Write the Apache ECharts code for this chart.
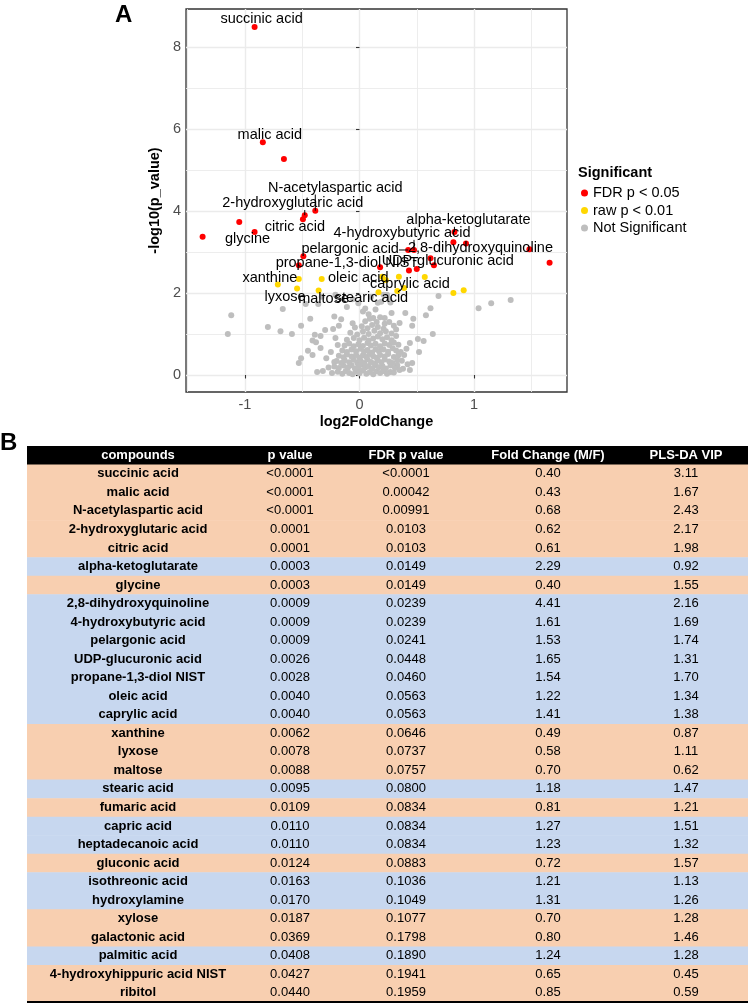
<!DOCTYPE html>
<html><head><meta charset="utf-8">
<script src="https://cdn.jsdelivr.net/npm/echarts@6/dist/echarts.min.js"></script>
<style>html,body{margin:0;padding:0;background:#fff}#c{width:748px;height:1008px}</style>
</head><body><div id="c"></div>
<script>
// ================= DATA: volcano plot =================
// [log2FoldChange, -log10(p_value), label]
const fdrPoints = [
  [-0.916, 8.49, 'succinic acid'],
  [-0.844, 5.68, 'malic acid'],
  [-0.66, 5.27, ''],
  [-0.386, 4.01, 'N-acetylaspartic acid'],
  [-0.478, 3.90, '2-hydroxyglutaric acid'],
  [-0.494, 3.80, 'citric acid'],
  [-1.05, 3.73, ''],
  [-0.916, 3.49, 'glycine'],
  [-1.37, 3.37, ''],
  [-0.49, 2.90, ''],
  [-0.53, 2.68, ''],
  [0.829, 3.49, 'alpha-ketoglutarate'],
  [0.82, 3.24, ''],
  [0.93, 3.21, ''],
  [1.484, 3.07, '2,8-dihydroxyquinoline'],
  [0.476, 3.05, '4-hydroxybutyric acid'],
  [0.425, 3.05, 'pelargonic acid'],
  [0.50, 2.585, 'UDP-glucuronic acid'],
  [0.432, 2.55, 'propane-1,3-diol NIST'],
  [1.66, 2.74, ''],
  [0.62, 2.85, ''],
  [0.65, 2.68, ''],
  [0.18, 2.63, '']
];
const rawPoints = [
  [0.199, 2.40, 'oleic acid'],
  [0.344, 2.40, 'caprylic acid'],
  [-0.713, 2.21, 'xanthine'],
  [-0.545, 2.11, 'lyxose'],
  [-0.357, 2.06, 'maltose'],
  [0.166, 2.02, 'stearic acid'],
  [-0.53, 2.34, ''],
  [-0.33, 2.34, ''],
  [0.23, 2.32, ''],
  [0.39, 2.12, ''],
  [0.33, 2.05, ''],
  [0.57, 2.39, ''],
  [0.82, 2.00, ''],
  [0.91, 2.07, '']
];
const nsPoints = [
  [-0.21,1.96],[0.24,1.96],[0.21,1.96],[-0.33,1.91],[0.19,1.79],[0.27,1.77],[-0.36,1.73],[-0.22,1.43],[0.22,1.39],[-0.43,1.37],[-0.16,1.36],
  [-1.12,1.46],[-1.15,1.00],[-0.67,1.61],[-0.80,1.17],[-0.69,1.07],[-0.59,1.00],[-0.51,1.20],[-0.47,1.73],[-0.18,1.20],[-0.06,1.26],
  [-0.30,1.10],[-0.23,1.12],[-0.39,0.98],[-0.34,0.95],[-0.41,0.84],[-0.38,0.80],[-0.21,0.90],[-0.45,0.59],[-0.41,0.49],[-0.51,0.41],
  [-0.53,0.29],[-0.37,0.07],[-0.32,0.10],[-0.34,0.66],[-0.29,0.41],[-0.25,0.56],[-0.22,0.32],[-0.19,0.73],[-0.27,0.18],[-0.24,0.05],
  [0.69,1.93],[1.04,1.63],[1.15,1.75],[1.32,1.83],[0.62,1.63],[0.58,1.46],[0.64,1.00],[0.56,0.83],[0.51,0.88],[0.52,0.56],[0.44,0.78],
  [0.47,1.37],[0.46,1.20],[0.40,1.51],[0.35,1.27],[0.46,0.29],[0.44,0.12],[0.38,0.15],[0.42,0.26],[0.26,1.85],[0.28,1.51],[0.16,1.76],
  [0.18,1.41],[0.12,1.39],[0.26,1.29],[0.36,0.56],[0.39,0.49],[0.27,0.07],[0.33,0.24],[0.37,0.35],[0.41,0.64],[0.34,0.74],
  [-0.11,1.66],[0.05,1.62],[0.10,1.90],[-0.01,1.75],[0.03,1.55],[0.08,1.48],[0.14,1.60],[-0.06,1.85],
  [-0.19,0.08],[-0.15,0.03],[-0.12,0.10],[-0.09,0.05],[-0.06,0.02],[-0.03,0.08],[0.00,0.04],[0.03,0.11],[0.06,0.03],[0.09,0.07],
  [0.12,0.02],[0.15,0.09],[0.18,0.05],[0.21,0.10],[0.24,0.03],[0.30,0.06],[-0.01,0.13],
  [-0.22,0.21],[-0.18,0.17],[-0.14,0.23],[-0.10,0.18],[-0.07,0.24],[-0.04,0.16],[-0.01,0.21],[0.02,0.25],[0.05,0.18],[0.08,0.22],
  [0.11,0.15],[0.14,0.24],[0.17,0.19],[0.20,0.22],[0.23,0.16],[0.27,0.23],[0.31,0.17],[0.35,0.12],
  [-0.20,0.34],[-0.16,0.29],[-0.13,0.36],[-0.09,0.31],[-0.05,0.37],[-0.02,0.30],[0.01,0.35],[0.04,0.29],[0.07,0.38],[0.10,0.32],
  [0.13,0.28],[0.16,0.36],[0.19,0.31],[0.22,0.38],[0.26,0.33],[0.29,0.29],[0.33,0.36],
  [-0.18,0.47],[-0.14,0.43],[-0.11,0.50],[-0.07,0.45],[-0.03,0.49],[0.00,0.42],[0.03,0.48],[0.06,0.44],[0.09,0.51],[0.12,0.46],
  [0.15,0.42],[0.18,0.49],[0.22,0.45],[0.25,0.51],[0.30,0.44],[0.34,0.48],
  [-0.15,0.60],[-0.11,0.56],[-0.07,0.62],[-0.03,0.58],[0.01,0.64],[0.04,0.57],[0.07,0.61],[0.11,0.55],[0.14,0.63],[0.17,0.58],
  [0.21,0.62],[0.25,0.57],[0.29,0.65],[0.32,0.60],
  [-0.13,0.72],[-0.09,0.77],[-0.05,0.70],[-0.01,0.75],[0.03,0.71],[0.07,0.78],[0.10,0.72],[0.14,0.76],[0.18,0.70],[0.22,0.77],
  [0.26,0.73],[0.30,0.79],
  [-0.11,0.86],[-0.05,0.90],[0.00,0.85],[0.04,0.91],[0.08,0.84],[0.12,0.89],[0.16,0.94],[0.20,0.87],[0.24,0.92],[0.28,0.85],[0.32,0.95],
  [-0.08,1.03],[-0.02,0.99],[0.03,1.06],[0.08,1.00],[0.13,1.08],[0.18,1.02],[0.23,1.07],[0.28,1.01],[0.32,1.11],
  [-0.04,1.16],[0.02,1.19],[0.07,1.14],[0.11,1.22],[0.16,1.17],[0.21,1.13],[0.30,1.20],
  [0.05,1.31],[0.15,1.29],[0.09,1.37],[0.22,1.25]
];
const xMajorTicks = [-1, 0, 1];
const xMinorTicks = [-1.5, -0.5, 0.5, 1.5];
const yMajorTicks = [0, 2, 4, 6, 8];
const yMinorTicks = [1, 3, 5, 7];
const legendNames = ['FDR p < 0.05', 'raw p < 0.01', 'Not Significant'];

// ================= DATA: table =================
const tableHeader = ['compounds', 'p value', 'FDR p value', 'Fold Change (M/F)', 'PLS-DA VIP'];
const compounds = ['succinic acid','malic acid','N-acetylaspartic acid','2-hydroxyglutaric acid','citric acid','alpha-ketoglutarate','glycine','2,8-dihydroxyquinoline','4-hydroxybutyric acid','pelargonic acid','UDP-glucuronic acid','propane-1,3-diol NIST','oleic acid','caprylic acid','xanthine','lyxose','maltose','stearic acid','fumaric acid','capric acid','heptadecanoic acid','gluconic acid','isothreonic acid','hydroxylamine','xylose','galactonic acid','palmitic acid','4-hydroxyhippuric acid NIST','ribitol'];
const pValues = ['<0.0001','<0.0001','<0.0001','0.0001','0.0001','0.0003','0.0003','0.0009','0.0009','0.0009','0.0026','0.0028','0.0040','0.0040','0.0062','0.0078','0.0088','0.0095','0.0109','0.0110','0.0110','0.0124','0.0163','0.0170','0.0187','0.0369','0.0408','0.0427','0.0440'];
const fdrValues = ['<0.0001','0.00042','0.00991','0.0103','0.0103','0.0149','0.0149','0.0239','0.0239','0.0241','0.0448','0.0460','0.0563','0.0563','0.0646','0.0737','0.0757','0.0800','0.0834','0.0834','0.0834','0.0883','0.1036','0.1049','0.1077','0.1798','0.1890','0.1941','0.1959'];
const foldChanges = ['0.40','0.43','0.68','0.62','0.61','2.29','0.40','4.41','1.61','1.53','1.65','1.54','1.22','1.41','0.49','0.58','0.70','1.18','0.81','1.27','1.23','0.72','1.21','1.31','0.70','0.80','1.24','0.65','0.85'];
const vipValues = ['3.11','1.67','2.43','2.17','1.98','0.92','1.55','2.16','1.69','1.74','1.31','1.70','1.34','1.38','0.87','1.11','0.62','1.47','1.21','1.51','1.32','1.57','1.13','1.26','1.28','1.46','1.28','0.45','0.59'];

// ================= LAYOUT / STYLE =================
const PLOT_FONT = "'Liberation Sans', Arial, sans-serif";
const TABLE_FONT = "'Liberation Sans Narrow', 'Arial Narrow', 'Liberation Sans', sans-serif";
const FS = 14.5;
// label offsets in pixels relative to the point, and whether a leader segment is drawn
const labelOffsets = {
  'succinic acid': [7, -8, false],
  'malic acid': [7, -7, false],
  'N-acetylaspartic acid': [20, -23, true],
  '2-hydroxyglutaric acid': [-12, -12, true],
  'citric acid': [-8, 8, true],
  'glycine': [-7, 7, false],
  'alpha-ketoglutarate': [14, -12, true],
  '2,8-dihydroxyquinoline': [-49, -1, false],
  '4-hydroxybutyric acid': [-12, -17, true],
  'pelargonic acid': [-58, -1, true],
  'UDP-glucuronic acid': [31, -8, true],
  'propane-1,3-diol NIST': [-62, -7, true],
  'oleic acid': [-24, 1, false],
  'caprylic acid': [11, 7, true],
  'xanthine': [-8, -6, true],
  'lyxose': [-12, 8, true],
  'maltose': [5, 8, true],
  'stearic acid': [-7, 6, true]
};
const TABLE_W = 721;
const colCenters = [111, 263, 379, 521, 659];
const ORANGE = '#f8cfb0', BLUE = '#c7d7ef';

const labeled = fdrPoints.concat(rawPoints).filter(p => p[2]);

const measureCtx = document.createElement('canvas').getContext('2d');
function textWidth(t, font) { measureCtx.font = font; return measureCtx.measureText(t).width; }

const chart = echarts.init(document.getElementById('c'), null, {renderer: 'canvas'});

const tableRows = [0].concat(compounds.map((c, i) => i + 1));
const labelFont = FS + 'px ' + PLOT_FONT;

const option = {
  backgroundColor: '#fff',
  animation: false,
  title: [
    {text: 'A', left: 115, top: 3, padding: 0, textStyle: {fontSize: 24, fontWeight: 'bold', color: '#000', fontFamily: PLOT_FONT}},
    {text: 'B', left: 0, top: 431, padding: 0, textStyle: {fontSize: 24, fontWeight: 'bold', color: '#000', fontFamily: PLOT_FONT}},
    {text: 'Significant', left: 578, top: 165, padding: 0, textStyle: {fontSize: FS, fontWeight: 'bold', color: '#000', fontFamily: PLOT_FONT}}
  ],
  legend: {
    data: legendNames, orient: 'vertical', left: 581, top: 185.5, padding: 0,
    itemWidth: 7, itemHeight: 7, itemGap: 2.5, icon: 'circle',
    textStyle: {fontSize: FS, lineHeight: 15, color: '#000', fontFamily: PLOT_FONT},
    selectedMode: false
  },
  grid: [
    {left: 186, top: 9, width: 381, height: 383, show: true, borderColor: '#333', borderWidth: 1.3, backgroundColor: 'transparent'},
    {left: 27, top: 446, width: TABLE_W, height: 556, show: false}
  ],
  xAxis: [
    {gridIndex: 0, type: 'value', min: -1.515, max: 1.812, position: 'bottom',
     axisLine: {show: false},
     axisTick: {show: true, length: 3.5, customValues: xMajorTicks, lineStyle: {color: '#333', width: 1.1}},
     axisLabel: {customValues: xMajorTicks, margin: 5, fontSize: FS, color: '#4d4d4d', fontFamily: PLOT_FONT},
     splitLine: {show: true, lineStyle: {color: '#ebebeb', width: 1.4}},
     name: 'log2FoldChange', nameLocation: 'middle', nameGap: 22,
     nameTextStyle: {fontSize: FS, fontWeight: 'bold', color: '#000', fontFamily: PLOT_FONT}},
    {gridIndex: 0, type: 'value', min: -1.515, max: 1.812, position: 'top',
     axisLine: {show: false}, axisLabel: {show: false},
     axisTick: {show: false, customValues: xMinorTicks},
     splitLine: {show: true, lineStyle: {color: '#ebebeb', width: 0.9}}},
    {gridIndex: 1, type: 'value', min: 0, max: TABLE_W, show: false}
  ],
  yAxis: [
    {gridIndex: 0, type: 'value', min: -0.415, max: 8.93, position: 'left',
     axisLine: {show: false},
     axisTick: {show: true, length: 3.5, customValues: yMajorTicks, lineStyle: {color: '#333', width: 1.1}},
     axisLabel: {customValues: yMajorTicks, margin: 5, fontSize: FS, color: '#4d4d4d', fontFamily: PLOT_FONT},
     splitLine: {show: true, lineStyle: {color: '#ebebeb', width: 1.4}},
     name: '-log10(p_value)', nameLocation: 'middle', nameGap: 17,
     nameTextStyle: {fontSize: FS, fontWeight: 'bold', color: '#000', fontFamily: PLOT_FONT}},
    {gridIndex: 0, type: 'value', min: -0.415, max: 8.93, position: 'right',
     axisLine: {show: false}, axisLabel: {show: false},
     axisTick: {show: false, customValues: yMinorTicks},
     splitLine: {show: true, lineStyle: {color: '#ebebeb', width: 0.9}}},
    {gridIndex: 1, type: 'category', data: tableRows, inverse: true, show: false}
  ],
  series: [
    {name: 'Not Significant', type: 'scatter', xAxisIndex: 0, yAxisIndex: 0, symbolSize: 6,
     itemStyle: {color: '#bebebe', opacity: 1}, data: nsPoints, z: 3, silent: true},
    {name: 'raw p < 0.01', type: 'scatter', xAxisIndex: 0, yAxisIndex: 0, symbolSize: 6,
     itemStyle: {color: '#ffd700', opacity: 1}, data: rawPoints.map(p => [p[0], p[1]]), z: 4, silent: true},
    {name: 'FDR p < 0.05', type: 'scatter', xAxisIndex: 0, yAxisIndex: 0, symbolSize: 6,
     itemStyle: {color: '#ff0000', opacity: 1}, data: fdrPoints.map(p => [p[0], p[1]]), z: 5, silent: true},
    {name: 'labels', type: 'custom', xAxisIndex: 0, yAxisIndex: 0, z: 10, silent: true,
     data: labeled.map((p, i) => [p[0], p[1], i]),
     renderItem: function (params, api) {
       const p = api.coord([api.value(0), api.value(1)]);
       const name = labeled[api.value(2)][2];
       const o = labelOffsets[name];
       const cx = p[0] + o[0], cy = p[1] + o[1];
       const w = textWidth(name, labelFont), h = FS * 0.95;
       const children = [];
       if (o[2]) {
         const nx = Math.min(Math.max(p[0], cx - w / 2), cx + w / 2);
         const ny = Math.min(Math.max(p[1], cy - h / 2), cy + h / 2);
         const d = Math.hypot(nx - p[0], ny - p[1]);
         if (d > 3) {
           children.push({type: 'line', shape: {x1: p[0], y1: p[1], x2: nx, y2: ny}, style: {stroke: '#000', lineWidth: 1}});
         }
       }
       children.push({type: 'text', x: cx, y: cy, style: {text: name, fill: '#000', align: 'center', verticalAlign: 'middle',
         textAlign: 'center', textVerticalAlign: 'middle', font: labelFont}});
       return {type: 'group', children: children};
     }},
    {name: 'table', type: 'custom', xAxisIndex: 2, yAxisIndex: 2, silent: true,
     data: tableRows.map(i => [i]),
     renderItem: function (params, api) {
       const i = api.value(0);
       const c0 = api.coord([0, i]);
       const c1 = api.coord([TABLE_W, i]);
       const h = api.size([0, 1])[1];
       const isHeader = i === 0;
       const k = i - 1;
       const cells = isHeader ? tableHeader : [compounds[k], pValues[k], fdrValues[k], foldChanges[k], vipValues[k]];
       const fill = isHeader ? '#000' : (parseFloat(foldChanges[k]) < 1 ? ORANGE : BLUE);
       const children = [{type: 'rect', shape: {x: c0[0], y: c0[1] - h / 2, width: c1[0] - c0[0], height: h + 0.6}, style: {fill: fill}}];
       cells.forEach(function (t, c) {
         const bold = isHeader || c === 0;
         children.push({type: 'text', x: api.coord([colCenters[c], i])[0], y: c0[1],
           style: {text: t, fill: isHeader ? '#fff' : '#000', align: 'center', verticalAlign: 'middle',
             textAlign: 'center', textVerticalAlign: 'middle',
             font: (bold ? 'bold ' : '') + '13px ' + TABLE_FONT}});
       });
       if (i === compounds.length) {
         children.push({type: 'line', shape: {x1: c0[0], y1: c0[1] + h / 2, x2: c1[0], y2: c0[1] + h / 2}, style: {stroke: '#000', lineWidth: 2}});
       }
       return {type: 'group', children: children};
     }}
  ]
};
chart.setOption(option);
</script></body></html>
